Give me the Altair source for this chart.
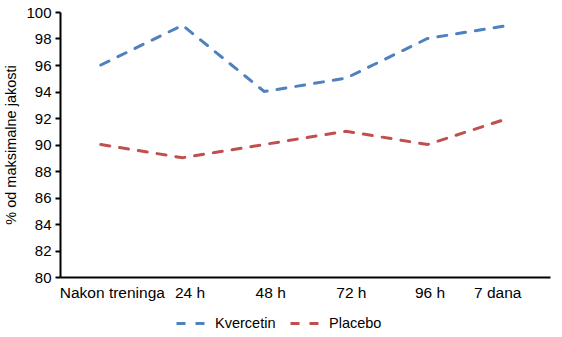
import altair as alt
import pandas as pd

categories = ["Nakon treninga", "24 h", "48 h", "72 h", "96 h", "7 dana"]
kvercetin = [96, 99, 94, 95, 98, 99]
placebo = [90, 89, 90, 91, 90, 92]
series_names = ["Kvercetin", "Placebo"]
colors = ["#4F81BD", "#C0504D"]

rows = []
for c, v in zip(categories, kvercetin):
    rows.append({"t": c, "v": v, "s": "Kvercetin"})
for c, v in zip(categories, placebo):
    rows.append({"t": c, "v": v, "s": "Placebo"})
df = pd.DataFrame(rows)

FONT = "Liberation Sans"

# label nudges mimicking the original's label placement (style only)
label_nudge = {"Nakon treninga": 11, "24 h": 7, "48 h": 6, "72 h": 5, "96 h": 2, "7 dana": -12}
label_offset = {
    "condition": [{"test": f"datum.value == '{k}'", "value": v} for k, v in label_nudge.items()],
    "value": 0,
}

legend = alt.Legend(title=None, orient="none", direction="horizontal",
                    legendX=115, legendY=295, symbolType="stroke",
                    symbolSize=900, symbolStrokeWidth=3,
                    labelFont=FONT, labelFontSize=14.5, labelColor="black",
                    labelOffset=7, columnPadding=8)

chart = alt.Chart(df).mark_line(strokeWidth=3, strokeCap="round").encode(
    x=alt.X("t:N", sort=categories,
            scale=alt.Scale(type="point", padding=0.5),
            axis=alt.Axis(title=None, labelAngle=0, ticks=False, domainColor="black",
                          domainWidth=2, labelColor="black", labelFont=FONT,
                          labelFontSize=15.5, labelPadding=8, grid=False,
                          labelOffset=label_offset)),
    y=alt.Y("v:Q", scale=alt.Scale(domain=[80, 100], nice=False, zero=False),
            axis=alt.Axis(title="% od maksimalne jakosti", values=list(range(80, 101, 2)),
                          grid=False, domainColor="black", domainWidth=2,
                          tickColor="black", tickWidth=2, tickSize=5,
                          labelColor="black", labelFont=FONT, labelFontSize=15,
                          labelPadding=4, titleFont=FONT, titleFontSize=14.5,
                          titleFontWeight="normal", titleColor="black", titlePadding=7)),
    color=alt.Color("s:N", scale=alt.Scale(domain=series_names, range=colors), legend=legend),
    strokeDash=alt.StrokeDash("s:N", scale=alt.Scale(domain=series_names,
                                                      range=[[9, 10], [9, 10]]),
                              legend=legend),
).properties(
    width=490, height=265,
    autosize=alt.AutoSizeParams(type="none"),
    padding={"left": 60, "top": 12, "right": 10, "bottom": 60},
).configure_view(stroke=None)

chart.save("out.html", embed_options={"renderer": "svg", "actions": False})
